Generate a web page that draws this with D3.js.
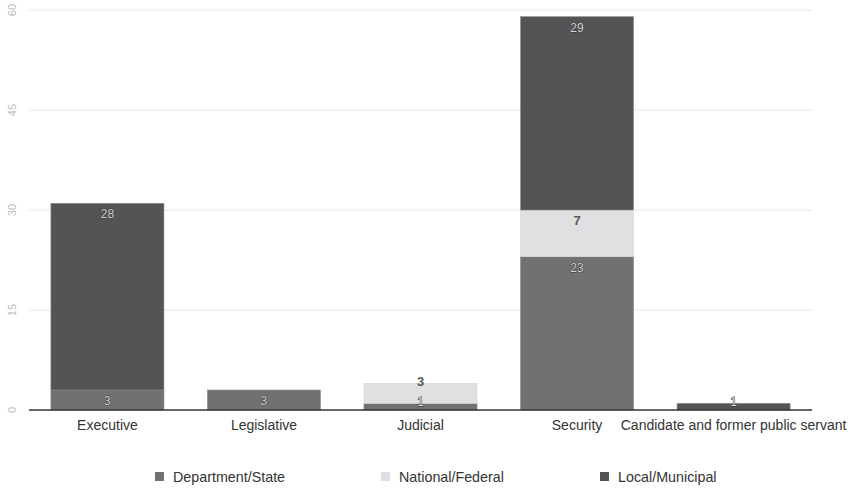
<!DOCTYPE html>
<html><head><meta charset="utf-8">
<script src="https://cdn.jsdelivr.net/npm/d3@7"></script>
<style>body{margin:0;background:#fff;}svg{display:block;font-family:"Liberation Sans",Arial,sans-serif;}</style>
</head><body>
<svg id="c" width="851" height="488"></svg>
<script>
const categories = ["Executive","Legislative","Judicial","Security","Candidate and former public servant"];
const seriesNames = ["Department/State","National/Federal","Local/Municipal"];
const deptState = [3,3,1,23,0];
const nationalFederal = [0,0,3,7,0];
const localMunicipal = [28,0,0,29,1];
const yTicks = [0,15,30,45,60];
const colors = ["#717173","#e0e0e2","#545456"];

const svg = d3.select("#c");
const x = d3.scaleBand().domain(categories).range([29,812]).paddingInner(0.278).paddingOuter(0.14);
const y = d3.scaleLinear().domain([0,60]).range([410,10]);

// gridlines
svg.append("g").selectAll("line").data(yTicks.filter(d=>d>0)).join("line")
  .attr("x1",29).attr("x2",812).attr("y1",d=>y(d)).attr("y2",d=>y(d))
  .attr("stroke","#e6e6e6").attr("stroke-width",1);

// y tick labels rotated
svg.append("g").selectAll("text").data(yTicks).join("text")
  .attr("transform",d=>`translate(16,${y(d)}) rotate(-90)`)
  .attr("text-anchor","middle").attr("font-size",11).attr("fill","#bdbdbd").text(d=>d);

const rows = categories.map((c,i)=>({cat:c, "Department/State":deptState[i], "National/Federal":nationalFederal[i], "Local/Municipal":localMunicipal[i]}));
const stack = d3.stack().keys(seriesNames)(rows);

const g = svg.append("g");
stack.forEach((layer,li)=>{
  g.append("g").selectAll("rect").data(layer.filter(d=>d[1]-d[0]>0)).join("rect")
    .attr("x",d=>x(d.data.cat)).attr("width",x.bandwidth())
    .attr("y",d=>y(d[1])).attr("height",d=>y(d[0])-y(d[1]))
    .attr("fill",colors[li]).attr("stroke",li==1?"#d6d6d8":"#8a8a8c").attr("stroke-width",0.6);
});
stack.forEach((layer,li)=>{
  g.append("g").selectAll("text").data(layer.filter(d=>d[1]-d[0]>0)).join("text")
    .attr("x",d=>x(d.data.cat)+x.bandwidth()/2)
    .attr("y",d=>{const t=y(d[1]),h=y(d[0])-y(d[1]); return h>=20? t+15 : t+3;})
    .attr("text-anchor","middle").attr("font-size",li==1?13:12)
    .attr("font-weight",li==1?"bold":"normal")
    .attr("fill",li==1?"#5a5a5a":"#d4d4d4")
    .attr("stroke",li==1?"none":"#333").attr("stroke-width",0.8).attr("paint-order","stroke")
    .text(d=>d[1]-d[0]);
});

// baseline
svg.append("line").attr("x1",29).attr("x2",812).attr("y1",y(0)).attr("y2",y(0))
  .attr("stroke","#333").attr("stroke-width",1.5);

// x labels
const xAxis = svg.append("g").attr("transform","translate(0,410)").call(d3.axisBottom(x).tickSize(0).tickPadding(10));
xAxis.select(".domain").remove();
xAxis.selectAll("text").attr("font-size",14).attr("fill","#333").attr("font-family","Liberation Sans, Arial, sans-serif");

// legend
const legX = [155,381,600];
const leg = svg.append("g").selectAll("g").data(seriesNames).join("g")
  .attr("transform",(d,i)=>`translate(${legX[i]},472)`);
leg.append("rect").attr("width",9).attr("height",9).attr("fill",(d,i)=>colors[i]);
leg.append("text").attr("x",18).attr("y",10).attr("font-size",14.3).attr("fill","#333").text(d=>d);
</script>
</body></html>
